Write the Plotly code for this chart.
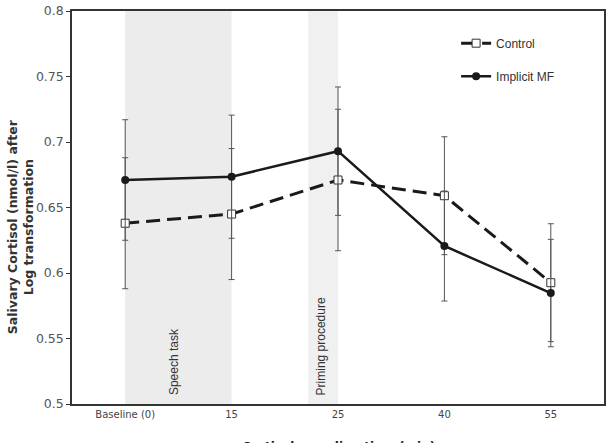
import plotly.graph_objects as go

categories = ["Baseline (0)", "15", "25", "40", "55"]
control = [0.638, 0.645, 0.671, 0.659, 0.5926]
control_err = [0.050, 0.050, 0.054, 0.045, 0.045]
implicit = [0.671, 0.6735, 0.693, 0.6206, 0.5847]
implicit_err = [0.046, 0.047, 0.049, 0.042, 0.041]
y_ticks = [0.5, 0.55, 0.6, 0.65, 0.7, 0.75, 0.8]
y_ticktext = ["0.5", "0.55", "0.6", "0.65", "0.7", "0.75", "0.8"]

fig = go.Figure()

# shaded phases
fig.add_shape(type="rect", xref="x", yref="paper", x0=0, x1=1, y0=0, y1=1,
              fillcolor="#ececec", line_width=0, layer="below")
fig.add_shape(type="rect", xref="x", yref="paper", x0=1.72, x1=2.0, y0=0, y1=1,
              fillcolor="#f0f0f0", line_width=0, layer="below")

fig.add_trace(go.Scatter(
    x=categories, y=control, name="Control", legendgroup="c",
    mode="lines+markers",
    line=dict(color="#1a1a1a", width=3, dash="14px,7px"),
    marker=dict(symbol="square", size=8, color="white",
                line=dict(color="#333333", width=1)),
    error_y=dict(type="data", array=control_err, color="#555555",
                 thickness=1, width=3),
))
fig.add_trace(go.Scatter(
    x=categories, y=implicit, name="Implicit MF", legendgroup="i",
    mode="lines+markers",
    line=dict(color="#1a1a1a", width=2.5),
    marker=dict(symbol="circle", size=8, color="#1a1a1a"),
    error_y=dict(type="data", array=implicit_err, color="#555555",
                 thickness=1, width=3),
))

fig.add_annotation(x=0.46, y=0.505, xref="x", yref="y", text="Speech task",
                   textangle=-90, showarrow=False, yanchor="bottom",
                   font=dict(family="Liberation Sans", size=12, color="#333333"))
fig.add_annotation(x=1.84, y=0.505, xref="x", yref="y", text="Priming procedure",
                   textangle=-90, showarrow=False, yanchor="bottom",
                   font=dict(family="Liberation Sans", size=12, color="#333333"))
fig.add_annotation(x=0.5, y=0, xref="paper", yref="paper", yshift=-34,
                   text="<b>Cortisol sampling time (min)</b>", showarrow=False,
                   yanchor="top",
                   font=dict(family="DejaVu Sans", size=12, color="#222222"))
fig.add_annotation(x=0, y=0.45, xref="paper", yref="paper", xshift=-52,
                   text="<b>Salivary Cortisol (nmol/l) after<br>Log transformation</b>",
                   textangle=-90, showarrow=False, xanchor="center", yanchor="middle",
                   font=dict(family="DejaVu Sans", size=12.5, color="#333333"))

fig.update_layout(
    width=609, height=443,
    margin=dict(l=72, r=3, t=11, b=39),
    plot_bgcolor="white", paper_bgcolor="white",
    showlegend=True,
    legend=dict(x=0.722, y=0.955, xanchor="left", yanchor="top",
                bgcolor="rgba(0,0,0,0)", itemwidth=30, tracegroupgap=14,
                font=dict(family="Liberation Sans", size=12, color="#333333")),
    xaxis=dict(type="category", categoryorder="array", categoryarray=categories,
               range=[-0.5, 4.5], showgrid=False, zeroline=False,
               showline=True, linecolor="#333333", linewidth=1.5, mirror=True,
               ticks="", tickfont=dict(family="DejaVu Sans", size=10, color="#444444")),
    yaxis=dict(range=[0.5, 0.8], tickvals=y_ticks, ticktext=y_ticktext,
               showgrid=False, zeroline=False,
               showline=True, linecolor="#333333", linewidth=1.5, mirror=True,
               ticks="outside", ticklen=4, tickcolor="#333333",
               tickfont=dict(family="DejaVu Sans", size=12.5, color="#555555")),
)

fig.write_html("out.html")
